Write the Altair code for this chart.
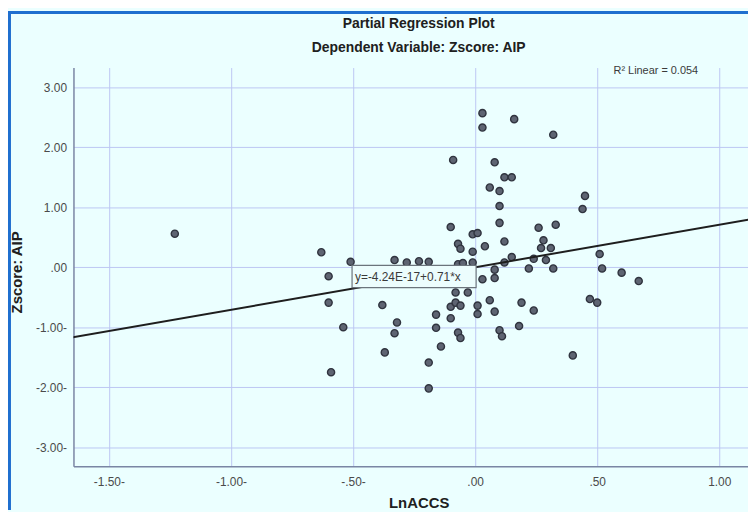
import altair as alt
import pandas as pd

# ---- data ----
x_vals = [-1.23, -0.63, -0.60, -0.51, 0.03, 0.03, 0.16, 0.32, -0.09, 0.08,
          0.12, 0.15, 0.06, 0.10, 0.10, 0.45, 0.44, 0.10, -0.10, 0.26,
          0.33, -0.01, 0.01, -0.07, -0.06, 0.04, 0.12, -0.01, 0.28, 0.27,
          0.31, 0.29, 0.15, 0.24, 0.12, 0.22, 0.32, 0.08, 0.03, 0.08,
          -0.33, -0.28, -0.23, -0.19, -0.07, -0.05, -0.01, 0.51, 0.52, 0.60,
          0.67, -0.60, -0.54, -0.59, -0.38, -0.32, -0.33, -0.37, -0.19, -0.19,
          -0.16, -0.16, -0.14, -0.10, -0.10, -0.08, -0.06, -0.08, -0.03, -0.07,
          -0.06, 0.01, 0.01, 0.06, 0.08, 0.10, 0.11, 0.19, 0.24, 0.18,
          0.40, 0.47, 0.50]
y_vals = [0.56, 0.25, -0.15, 0.09, 2.57, 2.33, 2.47, 2.21, 1.79, 1.75,
          1.50, 1.50, 1.33, 1.27, 1.02, 1.19, 0.97, 0.74, 0.67, 0.66,
          0.71, 0.55, 0.57, 0.39, 0.31, 0.35, 0.43, 0.26, 0.45, 0.32,
          0.32, 0.12, 0.17, 0.14, 0.08, -0.02, -0.02, -0.04, -0.20, -0.18,
          0.12, 0.08, 0.10, 0.09, 0.05, 0.07, 0.08, 0.22, -0.02, -0.09,
          -0.23, -0.59, -1.00, -1.75, -0.63, -0.92, -1.10, -1.42, -1.59, -2.02,
          -0.79, -1.01, -1.32, -0.85, -0.66, -0.59, -0.64, -0.42, -0.42, -1.09,
          -1.18, -0.64, -0.78, -0.55, -0.74, -1.05, -1.15, -0.59, -0.72, -0.98,
          -1.47, -0.53, -0.59]

x_ticks = [-1.5, -1.0, -0.5, 0.0, 0.5, 1.0]
x_tick_labels = ["-1.50-", "-1.00-", "-.50-", ".00", ".50", "1.00"]
y_ticks = [-3.0, -2.0, -1.0, 0.0, 1.0, 2.0, 3.0]
y_tick_labels = ["-3.00-", "-2.00-", "-1.00-", ".00", "1.00", "2.00", "3.00"]

title_lines = ["Partial Regression Plot", "Dependent Variable: Zscore: AIP"]
x_title = "LnACCS"
y_title = "Zscore: AIP"

fit_intercept = -4.24e-17
fit_slope = 0.71
fit_x = [-1.65, 1.12]
eq_text = "y=-4.24E-17+0.71*x"
r2_text = "R\u00b2 Linear = 0.054"

x_domain = [-1.645, 1.1176]
y_domain = [-3.32, 3.33]

# annotation anchors in data units
eq_box = {"x": -0.504, "x2": 0.004, "y": -0.34, "y2": 0.03}
eq_label = {"x": -0.492, "y": -0.155}
r2_label = {"x": 0.74, "y": 3.27}

FONT = "Liberation Sans, Arial, sans-serif"


def label_expr(vals, labels):
    expr = "''"
    for v, l in reversed(list(zip(vals, labels))):
        expr = f"datum.value == {v} ? '{l}' : ({expr})"
    return expr


pts = pd.DataFrame({"x": x_vals, "y": y_vals})
fit = pd.DataFrame({"x": fit_x})

xs = alt.Scale(domain=x_domain, nice=False, zero=False)
ys = alt.Scale(domain=y_domain, nice=False, zero=False)

x_axis = alt.Axis(values=x_ticks, labelExpr=label_expr(x_ticks, x_tick_labels),
                  title=x_title, titleX=348, titleY=37, titleBaseline="middle",
                  titleAnchor="middle", labelPadding=10)
y_axis = alt.Axis(values=y_ticks, labelExpr=label_expr(y_ticks, y_tick_labels),
                  title=y_title, titleX=-57, titleY=206, titleBaseline="middle",
                  titleAngle=270, labelPadding=7)

X = alt.X("x:Q", scale=xs, axis=x_axis)
Y = alt.Y("y:Q", scale=ys, axis=y_axis)

points = alt.Chart(pts).mark_point(
    shape="circle", filled=True, size=52, fill="#5e6472", stroke="#30343f",
    strokeWidth=1.4, opacity=1
).encode(x=X, y=Y)

line = alt.Chart(fit).transform_calculate(
    y=f"{fit_intercept} + {fit_slope} * datum.x"
).mark_line(color="#1e1e1e", strokeWidth=2, clip=True).encode(x=X, y=Y)

box = alt.Chart(pd.DataFrame([eq_box])).mark_rect(
    fill="#ecfdfd", stroke="#6b747c", strokeWidth=1.2
).encode(x=X, x2="x2:Q", y=Y, y2="y2:Q")

eq = alt.Chart(pd.DataFrame([eq_label])).mark_text(
    text=eq_text, align="left", baseline="middle", font=FONT, fontSize=12,
    color="#3a3a3a"
).encode(x=X, y=Y)

r2 = alt.Chart(pd.DataFrame([r2_label])).mark_text(
    text=r2_text, align="center", baseline="middle", font=FONT, fontSize=11,
    color="#3a3a3a"
).encode(x=X, y=Y)

frame_data = alt.Data(values=[{}])
left_border = alt.Chart(frame_data).mark_rule(color="#1f6fcf", strokeWidth=3).encode(
    x=alt.value(-64.5), y=alt.value(-57), y2=alt.value(446))
top_border = alt.Chart(frame_data).mark_rule(color="#1f6fcf", strokeWidth=3).encode(
    y=alt.value(-55.5), x=alt.value(-66), x2=alt.value(680))

title1 = alt.Chart(frame_data).mark_text(
    text=title_lines[0], align="center", baseline="middle", font=FONT,
    fontSize=14, fontWeight="bold", color="#202020"
).encode(x=alt.value(348), y=alt.value(-44))
title2 = alt.Chart(frame_data).mark_text(
    text=title_lines[1], align="center", baseline="middle", font=FONT,
    fontSize=14, fontWeight="bold", color="#202020"
).encode(x=alt.value(348), y=alt.value(-20))

chart = alt.layer(points, line, box, eq, r2, left_border, top_border,
                  title1, title2).properties(
    width=680, height=402,
    padding={"left": 66, "top": 58, "right": 0, "bottom": 44},
    autosize=alt.AutoSizeParams(type="none"),
    background="#ebffff",
).configure_view(strokeWidth=0).configure_axis(
    grid=True, gridColor="#bcc6f3", gridWidth=1,
    domainColor="#7a86a4", domainWidth=1.5,
    ticks=False,
    labelFont=FONT, labelFontSize=12, labelColor="#4a4a4a",
    titleFont=FONT, titleFontSize=15, titleFontWeight="bold", titleColor="#202020",
)

chart.save("out.html", embed_options={"renderer": "svg", "actions": False})
